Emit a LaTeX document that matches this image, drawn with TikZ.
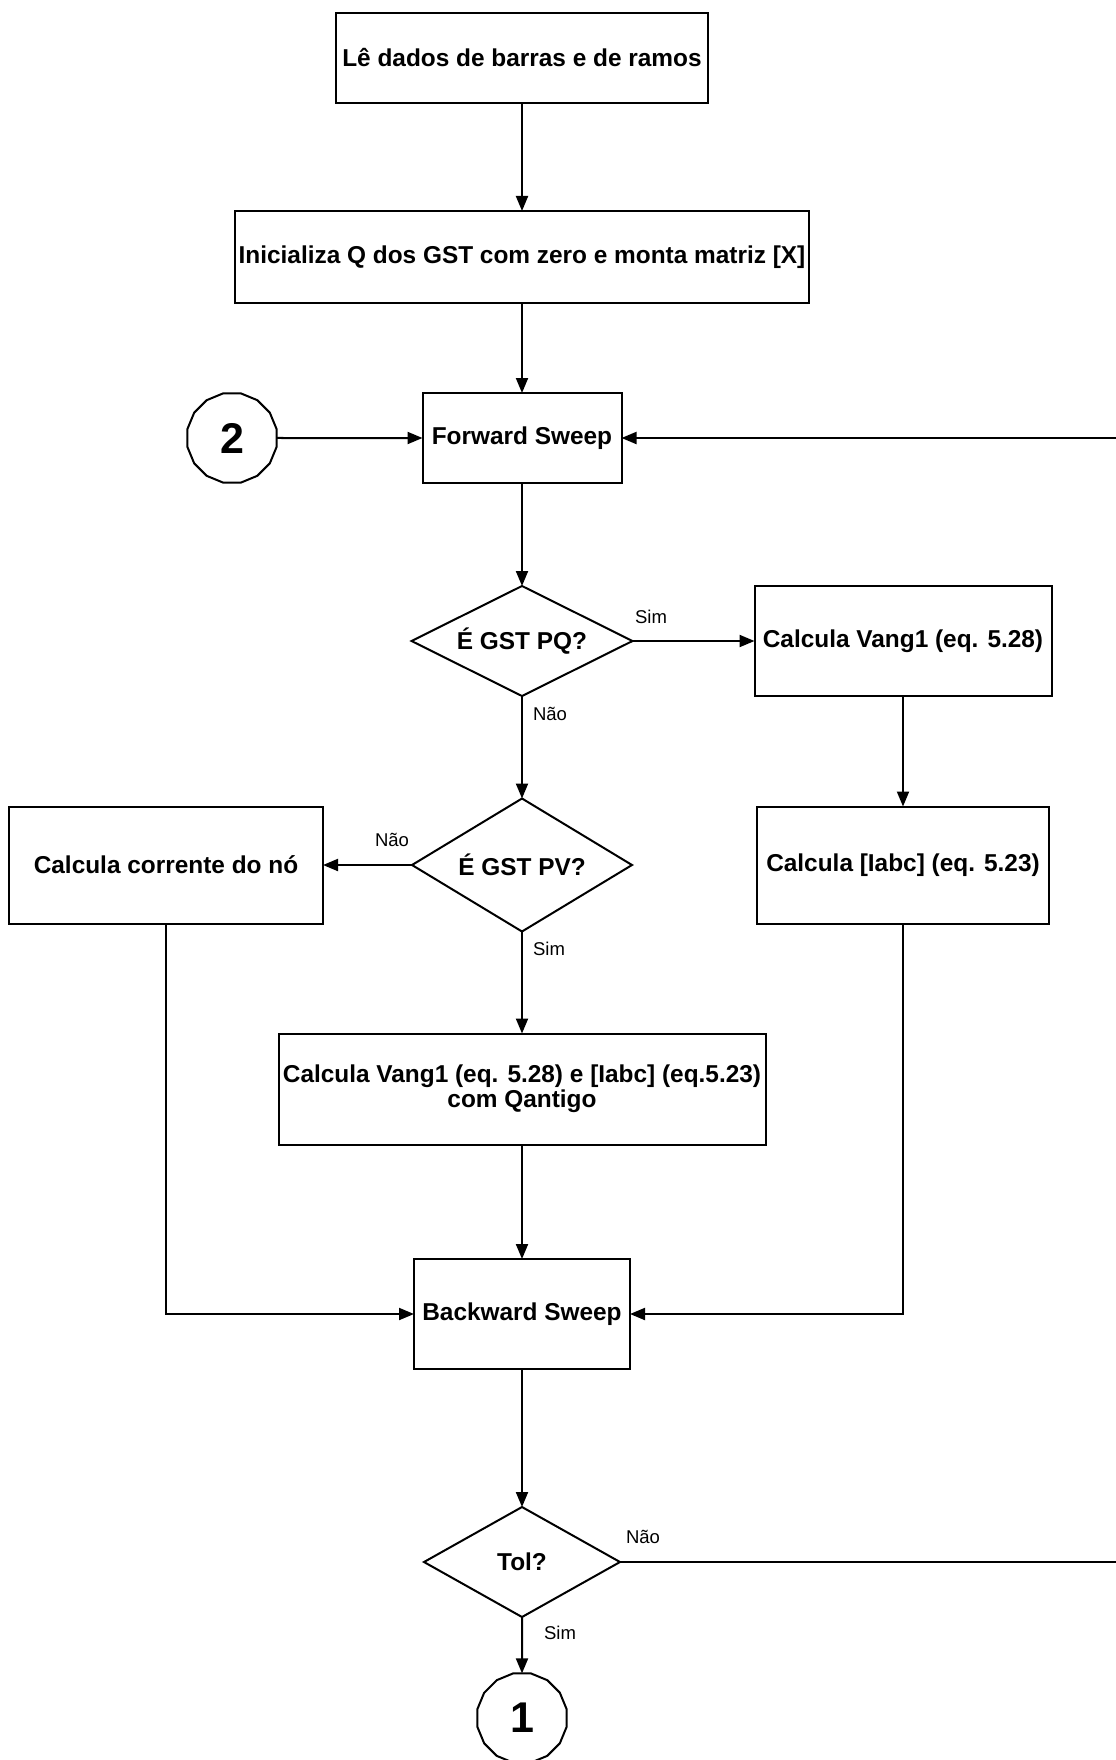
\documentclass[tikz,border=0pt]{standalone}
\usepackage{fontspec}
\setmainfont{Liberation Sans}
\usetikzlibrary{shapes.geometric,arrows.meta}
\begin{document}
\begin{tikzpicture}[x=0.5pt,y=-0.5pt,
  every node/.style={inner sep=0pt, outer sep=0pt},
  box/.style={draw, line width=1pt, rectangle, align=center, font=\bfseries\fontsize{12.2}{12.5}\selectfont},
  dec/.style={draw, line width=1pt, diamond, aspect=2, font=\bfseries\fontsize{12.2}{12.5}\selectfont},
  conn/.style={draw, line width=1pt, regular polygon, regular polygon sides=16, minimum size=45.5pt, font=\bfseries\fontsize{21.5}{22}\selectfont},
  lbl/.style={font=\fontsize{9.25}{10}\selectfont},
  arr/.style={line width=1pt, -{Triangle[length=7.5pt,width=6pt]}}
]
\useasboundingbox (0,0) rectangle (1115,1760);
\fill[white] (0,0) rectangle (1115,1760);

\node[box, minimum width=186pt, minimum height=45pt] (n1) at (522,58) {Lê dados de barras e de ramos};
\node[box, minimum width=287pt, minimum height=46pt] (n2) at (522,257) {Inicializa Q dos GST com zero e monta matriz [X]};
\node[box, minimum width=99.5pt, minimum height=45pt] (fs) at (522,438) {Forward Sweep};
\node[conn] (c2) at (232,438) {2};
\node[dec, minimum width=110.5pt, minimum height=55pt] (pq) at (522,641) {É GST PQ?};
\node[box, minimum width=148.5pt, minimum height=55pt] (v1) at (903,641) {Calcula Vang1 (eq. 5.28)};
\node[dec, minimum width=110pt, minimum height=66.5pt] (pv) at (522,865) {É GST PV?};
\node[box, minimum width=157pt, minimum height=58.5pt] (cc) at (166,865) {Calcula corrente do nó};
\node[box, minimum width=146pt, minimum height=58.5pt] (ia) at (903,865) {Calcula [Iabc] (eq. 5.23)};
\node[box, minimum width=243.5pt, minimum height=55.5pt] (vq) at (522,1089) {Calcula Vang1 (eq. 5.28) e [Iabc] (eq.5.23)\\com Qantigo};
\node[box, minimum width=108pt, minimum height=55pt] (bs) at (522,1314) {Backward Sweep};
\node[dec, minimum width=98pt, minimum height=55pt] (tol) at (522,1562) {Tol?};
\node[conn] (c1) at (522,1718) {1};

\coordinate (rt) at (1120,1562);
\coordinate (rf) at (1120,438);

\draw[arr] (n1.south) -- (n2.north);
\draw[arr] (n2.south) -- (fs.north);
\draw[arr] (c2.east) -- (fs.west);
\draw[arr] (fs.south) -- (pq.north);
\draw[arr] (pq.east) -- (v1.west);
\draw[arr] (pq.south) -- (pv.north);
\draw[arr] (pv.west) -- (cc.east);
\draw[arr] (pv.south) -- (vq.north);
\draw[arr] (v1.south) -- (ia.north);
\draw[arr] (vq.south) -- (bs.north);
\draw[arr] (cc.south) |- (bs.west);
\draw[arr] (ia.south) |- (bs.east);
\draw[arr] (bs.south) -- (tol.north);
\draw[arr] (tol.south) -- (c1.north);
\draw[arr] (tol.east) -- (rt) -- (rf) -- (fs.east);

\node[lbl] (l1) at (651,617) {Sim};
\node[lbl] (l2) at (550,714) {Não};
\node[lbl] (l3) at (392,840) {Não};
\node[lbl] (l4) at (549,949) {Sim};
\node[lbl] (l5) at (643,1537) {Não};
\node[lbl] (l6) at (560,1633) {Sim};
\end{tikzpicture}
\end{document}
